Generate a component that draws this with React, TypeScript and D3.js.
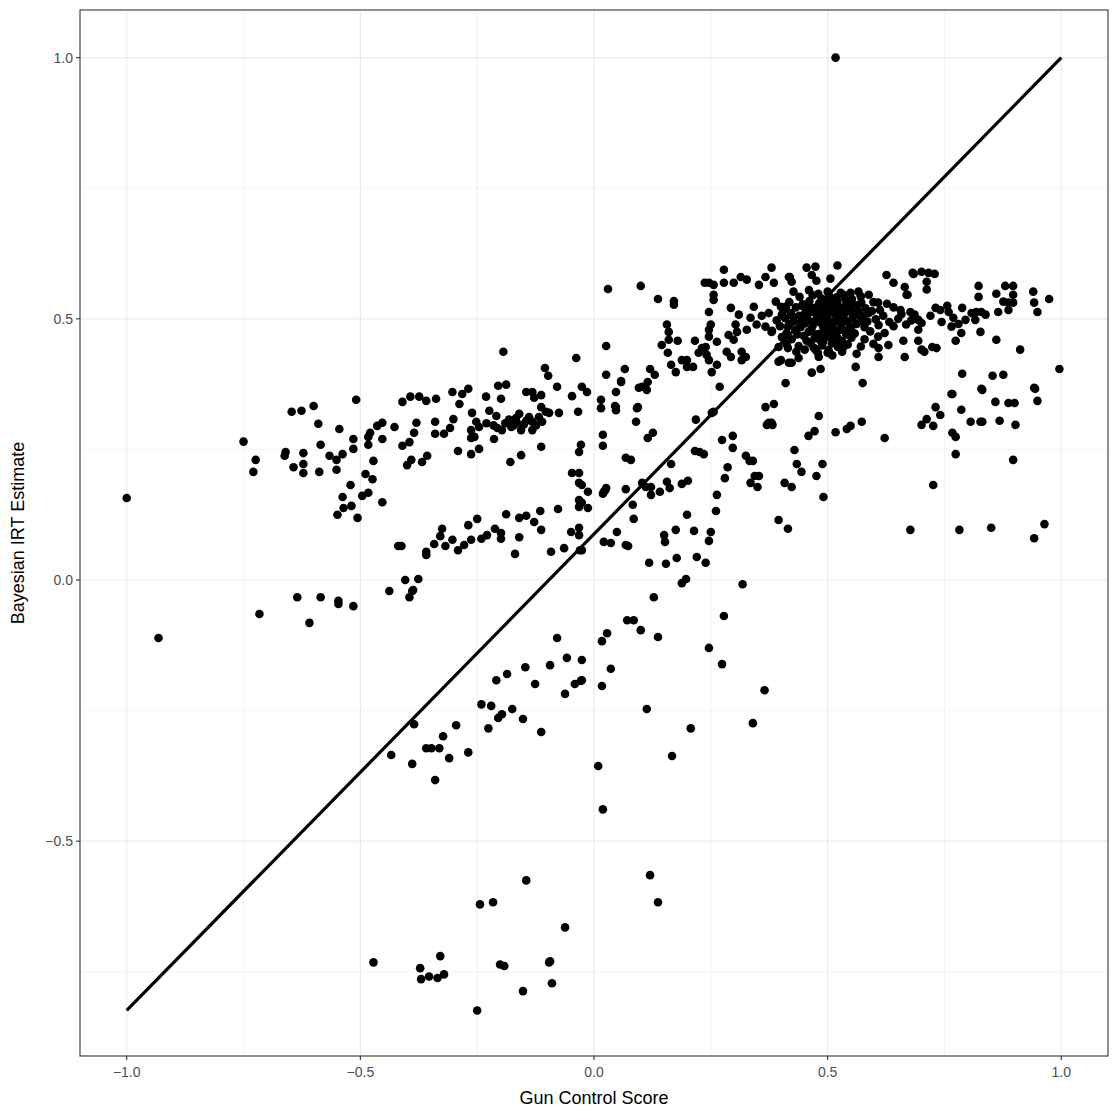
import React from "react";
import * as d3 from "d3";

type P = [number, number];

const xTicks = [-1, -0.5, 0, 0.5, 1];
const xMinor = [-0.75, -0.25, 0.25, 0.75];
const yTicks = [-0.5, 0, 0.5, 1];
const yMinor = [-0.75, -0.25, 0.25, 0.75];
const xLabel = "Gun Control Score";
const yLabel = "Bayesian IRT Estimate";
const refLine: P[] = [[-1, -0.824], [1, 1]];

const outliers: P[] = [[0.517,1.0],[-1.0,0.157],[-0.932,-0.111],[-0.716,-0.065],[0.996,0.404]];

const leftUpper: P[] = [[-0.75,0.265],[-0.724,0.23],[-0.729,0.207],[-0.647,0.322],[-0.626,0.324],[-0.600,0.333],[-0.509,0.345],[-0.590,0.299],[-0.545,0.289],[-0.660,0.245],[-0.662,0.238],[-0.622,0.243],[-0.585,0.259],[-0.643,0.216],[-0.622,0.222],[-0.622,0.205],[-0.588,0.207],[-0.566,0.238],[-0.551,0.230],[-0.538,0.241],[-0.551,0.211],[-0.515,0.270],[-0.515,0.251],[-0.483,0.274],[-0.479,0.282],[-0.464,0.295],[-0.453,0.301],[-0.427,0.293],[-0.453,0.270],[-0.483,0.259],[-0.472,0.228],[-0.489,0.203],[-0.474,0.193],[-0.521,0.182],[-0.538,0.159],[-0.536,0.138],[-0.519,0.142],[-0.549,0.125],[-0.506,0.119],[-0.496,0.161],[-0.483,0.167],[-0.453,0.149]];

const leftLower: P[] = [[-0.419,0.065],[-0.438,-0.021],[-0.635,-0.033],[-0.585,-0.033],[-0.547,-0.040],[-0.547,-0.046],[-0.515,-0.050],[-0.609,-0.082],[-0.404,0.000],[-0.376,0.002],[-0.389,-0.021],[-0.395,-0.033],[-0.387,-0.019]];

const upperBand: P[] = [[-0.410,0.341],[-0.393,0.351],[-0.374,0.351],[-0.359,0.343],[-0.338,0.347],[-0.303,0.360],[-0.282,0.356],[-0.269,0.366],[-0.288,0.337],[-0.340,0.303],[-0.301,0.308],[-0.380,0.301],[-0.385,0.282],[-0.395,0.264],[-0.410,0.257],[-0.340,0.280],[-0.321,0.280],[-0.308,0.291],[-0.400,0.220],[-0.391,0.230],[-0.368,0.226],[-0.357,0.238],[-0.291,0.247],[-0.263,0.241],[-0.246,0.251],[-0.263,0.287],[-0.261,0.320],[-0.252,0.303],[-0.246,0.293],[-0.263,0.272],[-0.256,0.274],[-0.214,0.270],[-0.224,0.324],[-0.231,0.351],[-0.205,0.372],[-0.188,0.374],[-0.199,0.347],[-0.209,0.314],[-0.207,0.291],[-0.197,0.287],[-0.182,0.307],[-0.177,0.293],[-0.165,0.301],[-0.156,0.287],[-0.167,0.310],[-0.145,0.360],[-0.132,0.360],[-0.113,0.354],[-0.128,0.349],[-0.139,0.312],[-0.132,0.303],[-0.118,0.312],[-0.113,0.331],[-0.103,0.322],[-0.111,0.303],[-0.132,0.287],[-0.096,0.320],[-0.113,0.255],[-0.179,0.226],[-0.156,0.239],[-0.075,0.320],[-0.079,0.370],[-0.047,0.352],[-0.026,0.370],[-0.015,0.360],[-0.034,0.322],[0.015,0.345],[0.015,0.329],[0.047,0.360],[0.047,0.331],[0.058,0.379],[-0.194,0.437],[-0.105,0.406],[-0.098,0.391],[-0.038,0.425],[0.026,0.448],[0.066,0.404],[0.026,0.393],[0.058,0.381],[0.092,0.329],[0.090,0.303],[0.096,0.368],[-0.190,0.300],[-0.172,0.296],[-0.150,0.298],[-0.145,0.305],[-0.160,0.318],[-0.124,0.296],[-0.215,0.296],[-0.230,0.300]];

const middleBand: P[] = [[0.019,0.278],[0.019,0.257],[-0.028,0.259],[-0.032,0.245],[0.068,0.234],[-0.047,0.205],[-0.032,0.205],[-0.032,0.186],[-0.026,0.182],[-0.013,0.169],[-0.032,0.153],[-0.032,0.140],[-0.013,0.138],[-0.026,0.148],[0.021,0.169],[0.026,0.176],[0.068,0.174],[-0.077,0.136],[-0.115,0.132],[-0.188,0.126],[-0.160,0.119],[-0.145,0.123],[-0.128,0.111],[-0.113,0.096],[-0.160,0.082],[-0.169,0.050],[-0.092,0.054],[-0.064,0.061],[-0.049,0.092],[-0.032,0.100],[-0.032,0.086],[-0.026,0.057],[0.021,0.073],[0.036,0.071],[0.049,0.092],[0.068,0.067],[-0.250,0.117],[-0.269,0.105],[-0.325,0.098],[-0.329,0.084],[-0.303,0.077],[-0.342,0.069],[-0.318,0.065],[-0.359,0.054],[-0.359,0.048],[-0.412,0.065],[-0.291,0.057],[-0.278,0.067],[-0.263,0.077],[-0.241,0.079],[-0.229,0.086],[-0.212,0.098],[-0.199,0.090],[-0.199,0.079],[0.079,0.230],[0.083,0.144],[0.085,0.117],[0.073,0.065],[-0.030,0.057]];

const centerUpper: P[] = [[0.030,0.557],[0.100,0.563],[0.137,0.538],[0.171,0.534],[0.171,0.527],[0.120,0.404],[0.130,0.393],[0.115,0.379],[0.103,0.370],[0.113,0.364],[0.045,0.333],[0.047,0.325],[0.094,0.331],[0.156,0.489],[0.160,0.475],[0.145,0.450],[0.160,0.460],[0.179,0.458],[0.158,0.435],[0.165,0.412],[0.175,0.398],[0.188,0.421],[0.199,0.421],[0.199,0.408],[0.212,0.408],[0.216,0.458],[0.224,0.435],[0.231,0.444],[0.239,0.446],[0.241,0.431],[0.246,0.421],[0.252,0.398],[0.263,0.412],[0.269,0.370],[0.263,0.456],[0.246,0.466],[0.246,0.479],[0.250,0.489],[0.246,0.513],[0.256,0.536],[0.256,0.546],[0.237,0.569],[0.256,0.565],[0.278,0.594],[0.278,0.569],[0.299,0.569],[0.314,0.580],[0.327,0.575],[0.353,0.565],[0.367,0.580],[0.380,0.598],[0.385,0.569],[0.293,0.521],[0.310,0.508],[0.303,0.489],[0.306,0.475],[0.288,0.469],[0.299,0.460],[0.284,0.437],[0.293,0.427],[0.316,0.437],[0.325,0.427],[0.316,0.421],[0.327,0.479],[0.335,0.502],[0.342,0.523],[0.348,0.489],[0.359,0.506],[0.374,0.511],[0.367,0.485],[0.380,0.475],[0.389,0.533],[0.400,0.523],[0.417,0.580],[0.423,0.571],[0.410,0.523],[0.395,0.446],[0.395,0.418],[0.417,0.416],[0.410,0.377],[0.218,0.307],[0.252,0.320],[0.367,0.331],[0.385,0.337],[0.374,0.301],[0.380,0.301],[0.246,0.569]];

const rightMid: P[] = [[0.115,0.272],[0.126,0.282],[0.256,0.322],[0.370,0.297],[0.382,0.297],[0.481,0.314],[0.459,0.276],[0.472,0.285],[0.517,0.283],[0.274,0.268],[0.297,0.276],[0.297,0.253],[0.216,0.247],[0.226,0.245],[0.235,0.241],[0.165,0.222],[0.325,0.238],[0.333,0.228],[0.340,0.228],[0.286,0.216],[0.280,0.195],[0.344,0.199],[0.353,0.199],[0.335,0.186],[0.350,0.178],[0.429,0.249],[0.434,0.222],[0.444,0.207],[0.408,0.186],[0.423,0.178],[0.476,0.199],[0.489,0.222],[0.491,0.159],[0.395,0.115],[0.415,0.098],[0.024,0.172],[0.019,0.165],[0.103,0.186],[0.111,0.178],[0.122,0.178],[0.122,0.163],[0.141,0.169],[0.156,0.188],[0.162,0.176],[0.188,0.184],[0.201,0.190],[0.199,0.125],[0.263,0.163],[0.261,0.132],[0.150,0.086],[0.152,0.073],[0.175,0.096],[0.214,0.094],[0.250,0.092],[0.246,0.075],[0.118,0.033],[0.154,0.031],[0.177,0.042],[0.220,0.044],[0.239,0.033],[0.188,-0.006],[0.197,0.002],[0.318,-0.008],[0.128,-0.033]];

const farRight: P[] = [[0.575,0.377],[0.541,0.289],[0.549,0.295],[0.573,0.303],[0.622,0.272],[0.677,0.096],[0.701,0.297],[0.712,0.308],[0.726,0.295],[0.731,0.331],[0.741,0.316],[0.726,0.182],[0.767,0.356],[0.786,0.326],[0.767,0.282],[0.774,0.274],[0.774,0.241],[0.782,0.096],[0.806,0.303],[0.827,0.303],[0.831,0.303],[0.831,0.364],[0.859,0.341],[0.868,0.305],[0.887,0.339],[0.900,0.339],[0.902,0.297],[0.897,0.230],[0.944,0.366],[0.949,0.343],[0.850,0.100],[0.942,0.080],[0.964,0.107],[0.912,0.441]];

const rightUpper: P[] = [[0.682,0.588],[0.701,0.590],[0.716,0.588],[0.729,0.586],[0.712,0.571],[0.712,0.556],[0.665,0.561],[0.671,0.546],[0.823,0.563],[0.823,0.542],[0.880,0.563],[0.897,0.563],[0.861,0.548],[0.897,0.546],[0.940,0.552],[0.974,0.538],[0.942,0.531],[0.949,0.513],[0.876,0.533],[0.887,0.531],[0.897,0.531],[0.887,0.517],[0.865,0.513],[0.656,0.517],[0.677,0.513],[0.686,0.508],[0.694,0.498],[0.701,0.492],[0.694,0.479],[0.720,0.506],[0.731,0.521],[0.741,0.517],[0.756,0.525],[0.759,0.513],[0.744,0.494],[0.769,0.502],[0.780,0.490],[0.795,0.498],[0.788,0.521],[0.765,0.485],[0.786,0.473],[0.808,0.511],[0.818,0.513],[0.829,0.513],[0.838,0.508],[0.816,0.498],[0.827,0.475],[0.861,0.460],[0.774,0.458],[0.662,0.458],[0.665,0.427],[0.694,0.458],[0.701,0.441],[0.707,0.437],[0.724,0.446],[0.733,0.444],[0.788,0.395],[0.853,0.391],[0.876,0.393],[0.765,0.356],[0.829,0.366],[0.942,0.368],[0.419,0.580],[0.455,0.598],[0.474,0.600],[0.466,0.584],[0.476,0.573],[0.521,0.602],[0.506,0.577],[0.626,0.584],[0.641,0.569],[0.669,0.546],[0.684,0.586],[0.427,0.552],[0.406,0.521],[0.415,0.444],[0.400,0.421],[0.438,0.425],[0.423,0.416],[0.466,0.397],[0.485,0.404],[0.474,0.441],[0.481,0.427],[0.500,0.435],[0.560,0.408],[0.534,0.446],[0.609,0.444],[0.630,0.450],[0.609,0.427],[0.528,0.550],[0.549,0.550],[0.566,0.552],[0.588,0.546],[0.608,0.531],[0.572,0.531],[0.551,0.527],[0.538,0.537]];

const denseCore: P[] = [[0.440,0.542],[0.468,0.545],[0.487,0.539],[0.503,0.544],[0.519,0.541],[0.534,0.546],[0.552,0.538],[0.571,0.543],[0.418,0.532],[0.447,0.528],[0.461,0.534],[0.482,0.530],[0.508,0.533],[0.522,0.527],[0.541,0.531],[0.563,0.526],[0.598,0.532],[0.627,0.529],[0.411,0.519],[0.432,0.522],[0.458,0.517],[0.473,0.521],[0.492,0.516],[0.501,0.523],[0.514,0.518],[0.532,0.521],[0.549,0.515],[0.581,0.520],[0.612,0.517],[0.641,0.522],[0.402,0.508],[0.421,0.511],[0.439,0.506],[0.452,0.512],[0.478,0.507],[0.489,0.510],[0.497,0.503],[0.516,0.509],[0.527,0.505],[0.538,0.512],[0.561,0.507],[0.588,0.511],[0.619,0.506],[0.658,0.509],[0.391,0.497],[0.409,0.501],[0.428,0.495],[0.457,0.499],[0.471,0.494],[0.483,0.501],[0.502,0.497],[0.509,0.490],[0.521,0.499],[0.543,0.494],[0.553,0.501],[0.572,0.496],[0.603,0.499],[0.632,0.494],[0.651,0.500],[0.679,0.497],[0.398,0.486],[0.418,0.490],[0.442,0.484],[0.451,0.491],[0.468,0.487],[0.491,0.483],[0.498,0.488],[0.512,0.482],[0.529,0.489],[0.548,0.485],[0.562,0.490],[0.579,0.484],[0.609,0.488],[0.641,0.486],[0.668,0.489],[0.381,0.477],[0.412,0.473],[0.431,0.479],[0.459,0.475],[0.481,0.471],[0.493,0.478],[0.507,0.474],[0.518,0.469],[0.538,0.477],[0.558,0.472],[0.591,0.476],[0.622,0.473],[0.402,0.465],[0.423,0.461],[0.449,0.467],[0.472,0.463],[0.484,0.459],[0.501,0.466],[0.523,0.462],[0.531,0.457],[0.551,0.464],[0.579,0.461],[0.608,0.466],[0.412,0.452],[0.438,0.448],[0.463,0.454],[0.488,0.449],[0.509,0.453],[0.522,0.446],[0.543,0.451],[0.571,0.447],[0.598,0.452],[0.433,0.437],[0.451,0.441],[0.479,0.435],[0.502,0.440],[0.531,0.437],[0.562,0.433]];

const denseCoreExtra: P[] = [[0.445,0.525],[0.455,0.505],[0.465,0.513],[0.475,0.498],[0.485,0.520],[0.495,0.530],[0.505,0.512],[0.515,0.495],[0.525,0.515],[0.535,0.500],[0.545,0.522],[0.555,0.510],[0.465,0.480],[0.475,0.470],[0.495,0.465],[0.505,0.480],[0.515,0.460],[0.525,0.478],[0.445,0.495],[0.435,0.470],[0.425,0.505],[0.415,0.485],[0.455,0.458],[0.490,0.455],[0.520,0.535],[0.500,0.552],[0.480,0.548],[0.460,0.555],[0.540,0.470],[0.550,0.480],[0.565,0.515],[0.575,0.505],[0.585,0.495],[0.595,0.515],[0.505,0.525],[0.485,0.492],[0.460,0.525],[0.530,0.448],[0.470,0.445],[0.510,0.430]];

const lowerBand: P[] = [[-0.079,-0.111],[-0.209,-0.192],[-0.186,-0.180],[-0.147,-0.167],[-0.094,-0.163],[-0.058,-0.149],[-0.028,-0.193],[-0.041,-0.199],[-0.126,-0.199],[-0.062,-0.218],[-0.241,-0.238],[-0.220,-0.241],[-0.205,-0.264],[-0.197,-0.257],[-0.175,-0.247],[-0.152,-0.266],[-0.226,-0.284],[-0.113,-0.291],[-0.385,-0.276],[-0.295,-0.278],[-0.323,-0.299],[-0.359,-0.322],[-0.348,-0.322],[-0.331,-0.322],[-0.310,-0.341],[-0.269,-0.330],[-0.434,-0.335],[-0.389,-0.352],[-0.340,-0.383],[0.071,-0.077],[0.085,-0.077],[0.100,-0.096],[0.137,-0.109],[0.028,-0.102],[0.017,-0.117],[0.278,-0.069],[0.246,-0.130],[0.274,-0.161],[-0.026,-0.153],[-0.026,-0.192],[0.036,-0.170],[0.017,-0.203],[0.365,-0.211],[0.113,-0.247],[0.340,-0.274],[0.207,-0.284],[0.167,-0.337],[0.009,-0.356],[0.019,-0.439]];

const bottomGroup: P[] = [[-0.472,-0.732],[-0.372,-0.743],[-0.370,-0.764],[-0.353,-0.759],[-0.335,-0.762],[-0.321,-0.755],[-0.329,-0.720],[-0.250,-0.824],[-0.244,-0.621],[-0.216,-0.617],[-0.145,-0.575],[-0.201,-0.736],[-0.192,-0.739],[-0.152,-0.787],[-0.096,-0.732],[-0.094,-0.730],[-0.090,-0.772],[-0.062,-0.665],[0.120,-0.565],[0.137,-0.617]];

const allPoints: P[] = [
  ...outliers, ...leftUpper, ...leftLower, ...upperBand, ...middleBand,
  ...centerUpper, ...rightMid, ...farRight, ...rightUpper, ...denseCore,
  ...denseCoreExtra, ...lowerBand, ...bottomGroup,
];

const W = 1120, H = 1120;
const panel = { left: 80, right: 1108, top: 10, bottom: 1056 };
const FONT = "'Liberation Sans', Arial, Helvetica, sans-serif";

const fmt = (v: number) => {
  const s = v.toFixed(1);
  return v < 0 ? "\u2212" + s.slice(1) : s;
};

export default function App() {
  const x = d3.scaleLinear().domain([-1.1, 1.1]).range([panel.left, panel.right]);
  const y = d3.scaleLinear().domain([-0.9112, 1.0912]).range([panel.bottom, panel.top]);
  const line = d3.line<P>().x((d) => x(d[0])).y((d) => y(d[1]));

  return (
    <svg width={W} height={H} style={{ position: "absolute", left: 0, top: 0, background: "#fff" }}>
      <rect x={0} y={0} width={W} height={H} fill="#fff" />
      <g>
        {xMinor.map((t) => (
          <line key={"xm" + t} x1={x(t)} x2={x(t)} y1={panel.top} y2={panel.bottom} stroke="#EBEBEB" strokeWidth={0.6} />
        ))}
        {yMinor.map((t) => (
          <line key={"ym" + t} y1={y(t)} y2={y(t)} x1={panel.left} x2={panel.right} stroke="#EBEBEB" strokeWidth={0.6} />
        ))}
        {xTicks.map((t) => (
          <line key={"xM" + t} x1={x(t)} x2={x(t)} y1={panel.top} y2={panel.bottom} stroke="#EBEBEB" strokeWidth={1.2} />
        ))}
        {yTicks.map((t) => (
          <line key={"yM" + t} y1={y(t)} y2={y(t)} x1={panel.left} x2={panel.right} stroke="#EBEBEB" strokeWidth={1.2} />
        ))}
      </g>
      <g>
        {allPoints.map((d, i) => (
          <circle key={i} cx={x(d[0])} cy={y(d[1])} r={4.3} fill="#000" />
        ))}
      </g>
      <path d={line(refLine) || ""} stroke="#000" strokeWidth={3.2} fill="none" />
      <rect x={panel.left} y={panel.top} width={panel.right - panel.left} height={panel.bottom - panel.top} fill="none" stroke="#333333" strokeWidth={1.1} />
      <g>
        {xTicks.map((t) => (
          <g key={"xt" + t}>
            <line x1={x(t)} x2={x(t)} y1={panel.bottom} y2={panel.bottom + 4} stroke="#333333" strokeWidth={1.1} />
            <text x={x(t)} y={panel.bottom + 21} textAnchor="middle" fontFamily={FONT} fontSize={14} fill="#4D4D4D">{fmt(t)}</text>
          </g>
        ))}
        {yTicks.map((t) => (
          <g key={"yt" + t}>
            <line x1={panel.left - 4} x2={panel.left} y1={y(t)} y2={y(t)} stroke="#333333" strokeWidth={1.1} />
            <text x={panel.left - 7} y={y(t) + 5} textAnchor="end" fontFamily={FONT} fontSize={14} fill="#4D4D4D">{fmt(t)}</text>
          </g>
        ))}
      </g>
      <text x={(panel.left + panel.right) / 2} y={1104} textAnchor="middle" fontFamily={FONT} fontSize={18} fill="#000">{xLabel}</text>
      <text transform={`translate(24,${(panel.top + panel.bottom) / 2}) rotate(-90)`} textAnchor="middle" fontFamily={FONT} fontSize={18} fill="#000">{yLabel}</text>
    </svg>
  );
}
